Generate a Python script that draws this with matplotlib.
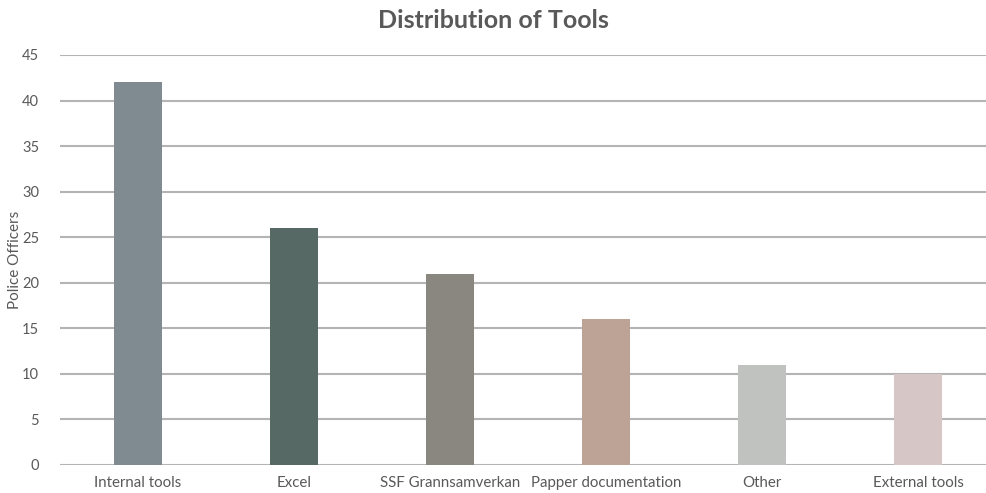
import matplotlib
matplotlib.use("Agg")
import matplotlib.pyplot as plt
import numpy as np

tools = ["Internal tools", "Excel", "SSF Grannsamverkan",
         "Papper documentation", "Other", "External tools"]
officers = [42, 26, 21, 16, 11, 10]
bar_colors = ["#808b91", "#566965", "#8a8780", "#bca395", "#c0c2c0", "#d6c6c6"]

plt.rcParams["font.family"] = ["Lato", "DejaVu Sans"]
text_col = "#595959"

fig = plt.figure(figsize=(9.86, 4.93), dpi=100)
# plot area runs slightly past the right edge of the canvas
ax = fig.add_axes([60 / 986, 28 / 493, 936 / 986, 410 / 493])

x = np.arange(len(tools))
ax.bar(x, officers, width=0.31, color=bar_colors, zorder=3)

ax.set_xlim(-0.5, len(tools) - 0.5)
ax.set_ylim(0, 45)
ax.set_yticks(range(0, 46, 5))
ax.set_xticks(x)
ax.set_xticklabels(tools)
ax.yaxis.grid(True, color="#b4b4b4", linewidth=1.5, zorder=0)
ax.set_axisbelow(True)
for s in ax.spines.values():
    s.set_visible(False)
ax.tick_params(axis="both", length=0, colors=text_col)
ax.tick_params(axis="y", pad=15, labelsize=10.5)
ax.tick_params(axis="x", pad=8, labelsize=10.8)

fig.text(15 / 986, 1 - 260 / 493, "Police Officers", rotation=90,
         ha="center", va="center", fontsize=11, color=text_col)
fig.text(0.5, 1 - 21 / 493, "Distribution of Tools", ha="center", va="center",
         fontsize=18, fontweight="bold", color=text_col)

fig.savefig("out.png", dpi=100, facecolor="white")
